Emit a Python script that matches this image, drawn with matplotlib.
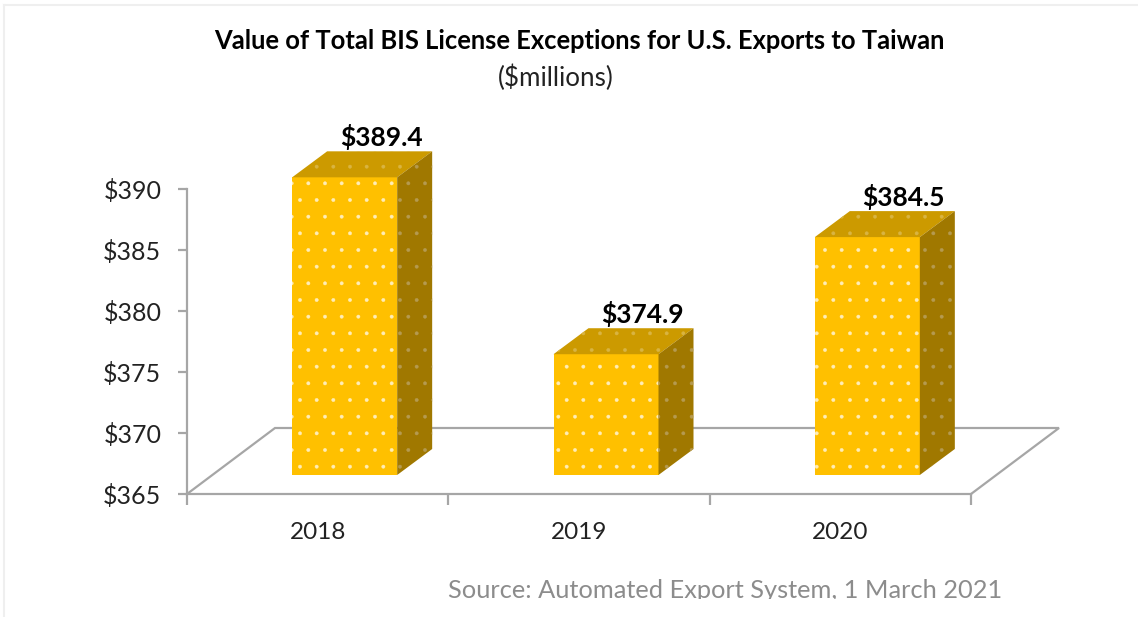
import matplotlib
matplotlib.use("Agg")
import matplotlib.pyplot as plt
import numpy as np
from matplotlib.lines import Line2D
from matplotlib.transforms import Bbox

plt.rcParams['font.family'] = ['Lato', 'DejaVu Sans']
plt.rcParams['hatch.linewidth'] = 0.3

years = ['2018', '2019', '2020']
values = [389.4, 374.9, 384.5]
labels = ['$389.4', '$374.9', '$384.5']
y_ticks = [365, 370, 375, 380, 385, 390]

W, H = 1138, 617
fig = plt.figure(figsize=(W/100, H/100), dpi=100, facecolor='white')
ax = fig.add_axes([187/W, 1-494/H, (971-187)/W, (494-189)/H])
ax.set_xlim(0, 3)
ax.set_ylim(365, 390)
ppx = (971-187)/3
ppy = (494-189)/25

def px(v): return v/ppx
def py(v): return v/ppy

GRAY = '#A6A6A6'
# floor
fdx, fdy = px(88), py(66)
ax.plot([0, fdx, 3+fdx, 3], [365, 365+fdy, 365+fdy, 365], color=GRAY, lw=1.6,
        clip_on=False, zorder=1, solid_joinstyle='miter')

# bars
off_x, off_y = px(27), py(19)
width = px(105)
ddx, ddy = px(35), py(26)
FRONT, TOP, SIDE = '#FFC000', '#CC9A00', '#A07800'
x = np.arange(3)+0.5+off_x
base = 365+off_y
ax.bar(x, np.array(values)-365, width=width, bottom=base, color=FRONT, edgecolor='#FFEDB8',
       linewidth=0, hatch='.', clip_on=False, zorder=3)
for xc, v, lab in zip(x, values, labels):
    l, r = xc-width/2, xc+width/2
    t = v+off_y
    ax.fill([l, r, r+ddx, l+ddx], [t, t, t+ddy, t+ddy], facecolor=TOP, edgecolor='#D9B442',
            linewidth=0, hatch='.', clip_on=False, zorder=3)
    ax.fill([r, r+ddx, r+ddx, r], [base, base+ddy, t+ddy, t], facecolor=SIDE, edgecolor='#B59A50',
            linewidth=0, hatch='.', clip_on=False, zorder=3)
    ax.annotate(lab, (xc+ddx/2, t+ddy), xytext=(19*0.72, 14.5*0.72), textcoords='offset points',
                ha='center', va='center', fontsize=19, fontweight='bold', color='black', zorder=5,
                annotation_clip=False)

# axes
for s in ['top', 'right']:
    ax.spines[s].set_visible(False)
for s in ['left', 'bottom']:
    ax.spines[s].set_color(GRAY)
    ax.spines[s].set_linewidth(1.6)
ax.set_yticks(y_ticks)
ax.set_yticklabels([f'${t}' for t in y_ticks])
ax.set_xticks([0, 1, 2, 3])
ax.set_xticklabels([])
ax.set_xticks(np.arange(3)+0.5, minor=True)
ax.set_xticklabels(years, minor=True)
ax.tick_params(axis='y', length=6.5, width=1.6, color=GRAY, labelsize=18, pad=12, labelcolor='#222222')
ax.tick_params(axis='x', which='major', length=8, width=1.6, color=GRAY)
ax.tick_params(axis='x', which='minor', length=0, labelsize=17.5, pad=20.5, labelcolor='#222222')
ax.set_zorder(2)

# titles
fig.text(579/W, 1-41/H, 'Value of Total BIS License Exceptions for U.S. Exports to Taiwan',
         ha='center', va='center', fontsize=18.4, fontweight='bold', color='black')
fig.text(556/W, 1-78/H, '($millions)', ha='center', va='center', fontsize=18.7, color='#222222')

# source, cut off at the bottom as in the original screenshot
src = fig.text(725/W, 1-598/H, 'Source: Automated Export System, 1 March 2021', ha='center', va='baseline',
               fontsize=18.3, color='#8C8C8C')
src.set_clip_box(Bbox([[0, 617-599], [W, H]]))
src.set_clip_on(True)

# screenshot frame
fig.add_artist(Line2D([4/W, 1], [1-5/H, 1-5/H], color='#EFEFEF', lw=1.5))
fig.add_artist(Line2D([4/W, 4/W], [0, 1-5/H], color='#EFEFEF', lw=1.5))

fig.savefig('out.png', dpi=100, facecolor='white')
